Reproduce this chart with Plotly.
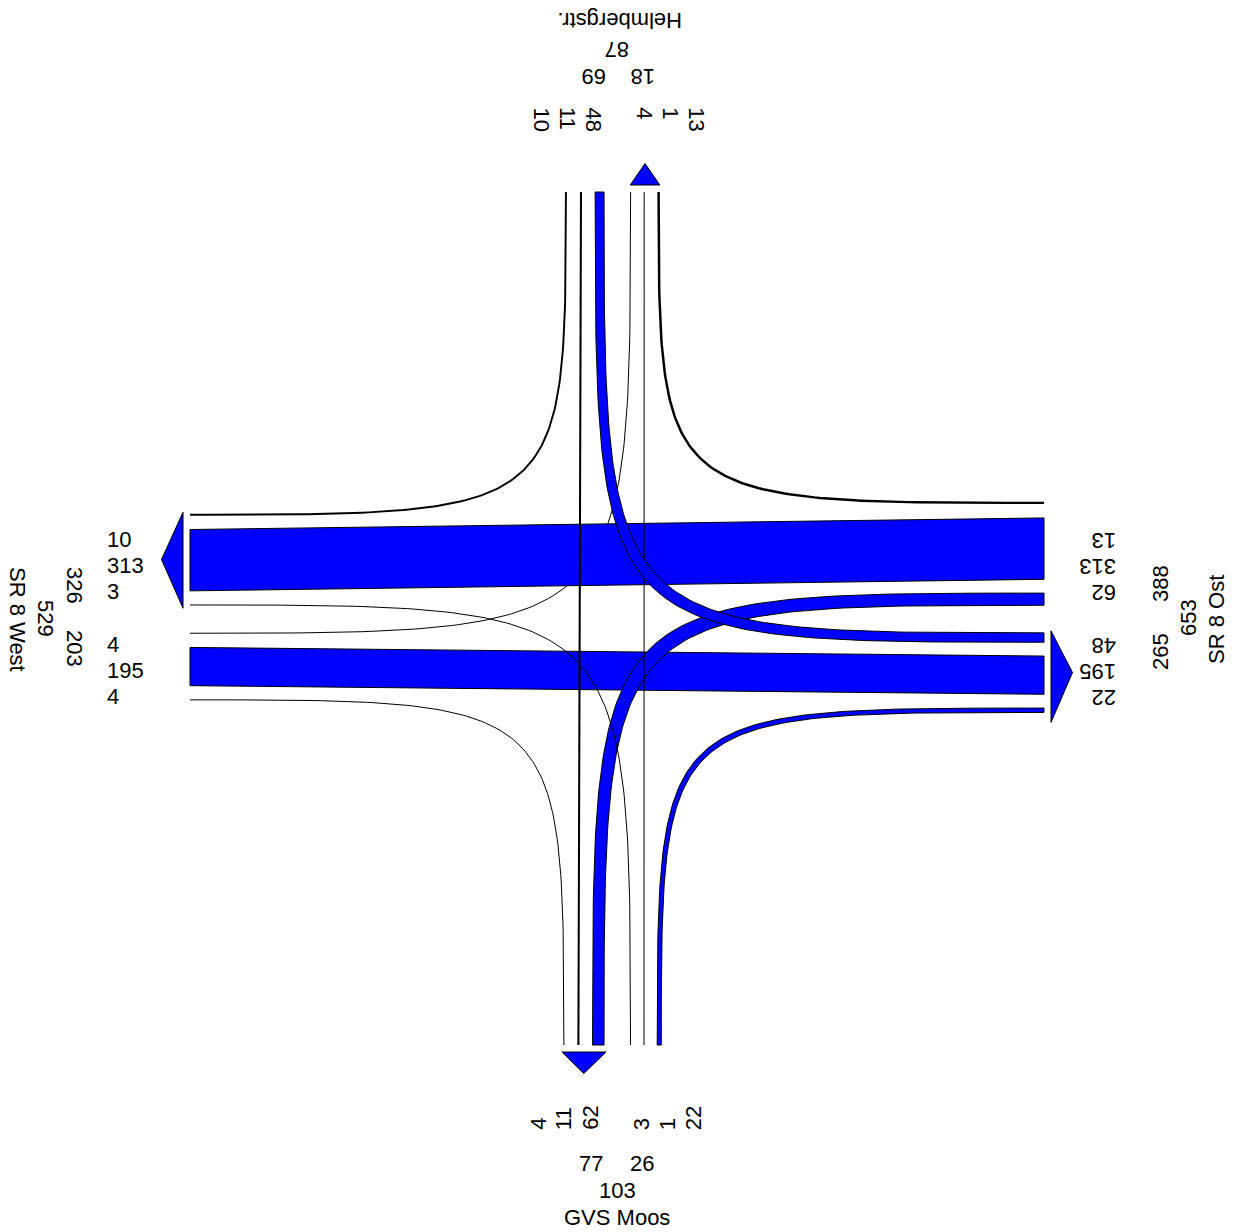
import numpy as np
import plotly.graph_objects as go

# Knotenstrom: N = Helmbergstr., E = SR 8 Ost, S = GVS Moos, W = SR 8 West
arm_names = {'N': 'Helmbergstr.', 'E': 'SR 8 Ost', 'S': 'GVS Moos', 'W': 'SR 8 West'}
origin = ['N', 'N', 'N', 'E', 'E', 'E', 'S', 'S', 'S', 'W', 'W', 'W']
destination = ['W', 'S', 'E', 'N', 'W', 'S', 'W', 'N', 'E', 'N', 'E', 'S']
volume = [10, 11, 48, 13, 313, 62, 3, 1, 22, 4, 195, 4]

flows = {(o, d): v for o, d, v in zip(origin, destination, volume)}
opp = {'N': 'S', 'S': 'N', 'E': 'W', 'W': 'E'}

# geometry (pixels)
CX, CY = 612.4, 607.0
END = {'N': 192, 'S': 1045, 'W': 190, 'E': 1044}
SCALE = {'NS': 0.186, 'EW': 0.196}   # px per vehicle, vertical / horizontal arms
GAP = {'NS': 13.1, 'EW': 13.8}
BAND_MIN = 20
BLUE = '#0000ff'
FONT = 'Liberation Sans, Arial, sans-serif'
FS = 22


def kind(arm):
    return 'NS' if arm in 'NS' else 'EW'


def lane_groups(arm):
    others = ['W', opp[arm], 'E'] if arm in 'NS' else ['N', opp[arm], 'S']
    inbound = [(arm, o) for o in others]
    outbound = [(o, arm) for o in others]
    return [inbound, outbound] if arm in 'NE' else [outbound, inbound]


edges = {}
groups_ext = {}
for arm in 'NESW':
    k = kind(arm)
    grp = lane_groups(arm)
    total = sum(flows[f] for g in grp for f in g) * SCALE[k] + 6 * GAP[k]
    pos = (CX if k == 'NS' else CY) - total / 2
    ext = []
    for gi, g in enumerate(grp):
        lo = pos
        for f in g:
            w = flows[f] * SCALE[k]
            edges.setdefault(f, {})[arm] = (pos, pos + w)
            pos += w + GAP[k]
        ext.append((lo, pos - GAP[k]))
        pos += GAP[k]
    groups_ext[arm] = (grp, ext)


def bezier(p0, c, p3, n=120):
    t = np.linspace(0, 1, n)[:, None]
    p0, c, p3 = np.array(p0), np.array(c), np.array(p3)
    pts = (1 - t) ** 3 * p0 + (3 * (1 - t) ** 2 * t + 3 * (1 - t) * t ** 2) * c + t ** 3 * p3
    return pts[:, 0], pts[:, 1]


def path(f, a, b):
    o, d = f
    if {o, d} == {'N', 'S'}:
        xn = a if o == 'N' else b
        xs = b if o == 'N' else a
        return np.array([xn, xs]), np.array([END['N'], END['S']])
    if {o, d} == {'E', 'W'}:
        ye = a if o == 'E' else b
        yw = b if o == 'E' else a
        return np.array([END['E'], END['W']]), np.array([ye, yw])
    v = o if o in 'NS' else d
    h = d if v == o else o
    x = a if v == o else b
    y = b if v == o else a
    return bezier((x, END[v]), (x, y), (END[h], y))


fig = go.Figure()

draw_order = [f for o in 'WESN' for f in lane_groups(o)[0 if o in 'NE' else 1]]
for f in draw_order:
    o, d = f
    eo, ed = edges[f][o], edges[f][d]
    v = flows[f]
    if v >= BAND_MIN:
        if {o, d} in ({'N', 'S'}, {'E', 'W'}):
            pairs = [(eo[0], ed[0]), (eo[1], ed[1])]
        else:
            vert = o if o in 'NS' else d
            hor = d if vert == o else o
            ex = edges[f][vert]
            ey = edges[f][hor]
            xs = [ex[0], ex[1]] if hor == 'E' else [ex[1], ex[0]]
            ys = [ey[1], ey[0]] if vert == 'N' else [ey[0], ey[1]]
            pairs = [(xs[i], ys[i]) if vert == o else (ys[i], xs[i]) for i in range(2)]
        x1, y1 = path(f, *pairs[0])
        x2, y2 = path(f, *pairs[1])
        px = np.concatenate([x1, x2[::-1], x1[:1]])
        py = np.concatenate([y1, y2[::-1], y1[:1]])
        fig.add_trace(go.Scatter(x=px, y=py, mode='lines', fill='toself', fillcolor=BLUE,
                                 line=dict(color='black', width=1), hoverinfo='skip', showlegend=False))
    else:
        a = sum(eo) / 2
        b = sum(ed) / 2
        lw = max(v * (SCALE[kind(o)] + SCALE[kind(d)]) / 2, 1)
        x, y = path(f, a, b)
        fig.add_trace(go.Scatter(x=x, y=y, mode='lines', line=dict(color='black', width=lw),
                                 hoverinfo='skip', showlegend=False))

# arrows on the outbound groups
ARROW_OFF, ARROW_LEN = 7, 21.5
ARROW_PAD = {'N': (0, 0), 'S': (1.5, 2), 'W': (1.5, 3), 'E': (2, 10)}
for arm in 'NESW':
    grp, ext = groups_ext[arm]
    gi = 1 if arm in 'NE' else 0
    lo, hi = ext[gi]
    mid = (lo + hi) / 2
    plo, phi = ARROW_PAD[arm]
    sgn = -1 if arm in 'NW' else 1
    base = END[arm] + sgn * ARROW_OFF
    tip = END[arm] + sgn * (ARROW_OFF + ARROW_LEN)
    if arm in 'NS':
        ax, ay = [lo - plo, hi + phi, mid, lo - plo], [base, base, tip, base]
    else:
        ax, ay = [base, base, tip, base], [lo - plo, hi + phi, mid, lo - plo]
    fig.add_trace(go.Scatter(x=ax, y=ay, mode='lines', fill='toself', fillcolor=BLUE,
                             line=dict(color='black', width=1), hoverinfo='skip', showlegend=False))

# labels
ROW = 26
NUM_ANGLE = {'W': 0, 'E': 180, 'N': 90, 'S': -90}
NUM_CENTRES = {'W': [565.3, 670.7], 'E': [567, 671.7], 'N': [567.5, 670.8], 'S': [563.7, 667.2]}
NUM_FIXED = {'W': 105, 'E': 1118, 'N': 105, 'S': 1132}
NUM_ANCHOR = {'W': ('left', 'middle'), 'E': ('right', 'middle'),
              'N': ('center', 'top'), 'S': ('center', 'bottom')}
SUM_POS = {'W': [(75, 585), (75, 648)], 'E': [(1160, 584), (1160, 652)],
           'N': [(594, 77), (643, 77)], 'S': [(591, 1163), (641.7, 1163)]}
TOTAL_POS = {'W': (46, 618), 'E': (1188, 618), 'N': (617.5, 50), 'S': (617, 1190)}
NAME_POS = {'W': (18, 619), 'E': (1216, 620), 'N': (620, 21), 'S': (617, 1217)}
NAME_ANGLE = {'W': 90, 'E': -90, 'N': 180, 'S': 0}


def label(x, y, text, angle, xa='center', ya='middle'):
    fig.add_annotation(x=x, y=y, text=text, showarrow=False, textangle=angle,
                       xanchor=xa, yanchor=ya, font=dict(family=FONT, size=FS, color='black'))


for arm in 'NESW':
    grp, ext = groups_ext[arm]
    xa, ya = NUM_ANCHOR[arm]
    for gi, g in enumerate(grp):
        for i, f in enumerate(g):
            p = NUM_CENTRES[arm][gi] + (i - 1) * ROW
            if arm in 'WE':
                label(NUM_FIXED[arm], p, str(flows[f]), NUM_ANGLE[arm], xa, ya)
            else:
                label(p, NUM_FIXED[arm], str(flows[f]), NUM_ANGLE[arm], xa, ya)
        sx, sy = SUM_POS[arm][gi]
        label(sx, sy, str(sum(flows[f] for f in g)), NAME_ANGLE[arm])
    tot = sum(flows[f] for g in grp for f in g)
    label(*TOTAL_POS[arm], str(tot), NAME_ANGLE[arm])
    label(*NAME_POS[arm], arm_names[arm], NAME_ANGLE[arm])

fig.update_layout(width=1239, height=1232, margin=dict(l=0, r=0, t=0, b=0, pad=0),
                  paper_bgcolor='white', plot_bgcolor='white', showlegend=False,
                  xaxis=dict(range=[0, 1239], visible=False, fixedrange=True),
                  yaxis=dict(range=[1232, 0], visible=False, fixedrange=True))
fig.write_html("out.html", config={'displayModeBar': False},
               post_script="document.body.style.margin='0';document.body.style.overflow='hidden';")
